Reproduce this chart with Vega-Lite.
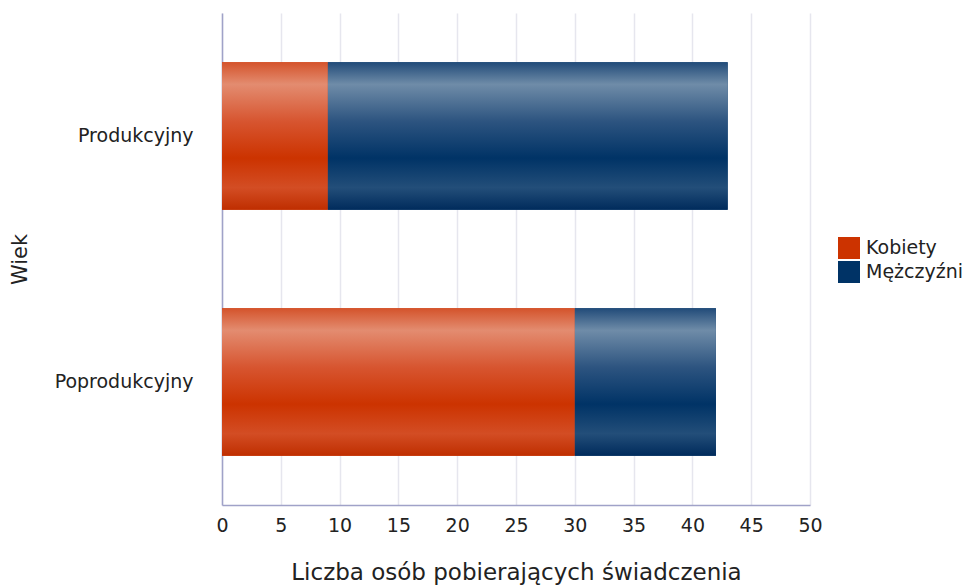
{
  "$schema": "https://vega.github.io/schema/vega-lite/v6.json",
  "width": 588,
  "height": 492,
  "autosize": "none",
  "padding": {"left": 222, "top": 13, "right": 165, "bottom": 80},
  "background": "white",
  "config": {
    "font": "DejaVu Sans",
    "view": {"stroke": null}
  },
  "data": {
    "values": [
      {"wiek": "Produkcyjny", "plec": "Kobiety", "liczba": 9, "ord": 1},
      {"wiek": "Produkcyjny", "plec": "Mężczyźni", "liczba": 34, "ord": 2},
      {"wiek": "Poprodukcyjny", "plec": "Kobiety", "liczba": 30, "ord": 1},
      {"wiek": "Poprodukcyjny", "plec": "Mężczyźni", "liczba": 12, "ord": 2}
    ]
  },
  "transform": [
    {"stack": "liczba", "groupby": ["wiek"], "sort": [{"field": "ord", "order": "ascending"}], "as": ["x0", "x1"]}
  ],
  "encoding": {
    "y": {
      "field": "wiek",
      "type": "nominal",
      "sort": ["Produkcyjny", "Poprodukcyjny"],
      "scale": {"paddingInner": 0.4, "paddingOuter": 0.2},
      "axis": {
        "title": "Wiek",
        "titleFontSize": 21,
        "titleFontWeight": "normal",
        "titleColor": "#222222",
        "titleX": -192,
        "labelFontSize": 19,
        "labelColor": "#222222",
        "labelPadding": 29,
        "ticks": false,
        "domainColor": "#a0a2c8",
        "domainWidth": 1.5
      }
    },
    "x": {
      "field": "x0",
      "type": "quantitative",
      "scale": {"domain": [0, 50], "nice": false},
      "axis": {
        "values": [0, 5, 10, 15, 20, 25, 30, 35, 40, 45, 50],
        "title": "Liczba osób pobierających świadczenia",
        "titleFontSize": 23,
        "titleFontWeight": "normal",
        "titleColor": "#222222",
        "titlePadding": 26,
        "labelFontSize": 19,
        "labelColor": "#222222",
        "labelPadding": 11,
        "labelFlush": false,
        "ticks": false,
        "grid": true,
        "gridColor": "#e6e6ee",
        "gridWidth": 1.5,
        "domainColor": "#a0a2c8",
        "domainWidth": 1.5
      }
    },
    "x2": {"field": "x1"}
  },
  "layer": [
    {
      "mark": {"type": "bar"},
      "encoding": {
        "fill": {
          "field": "plec",
          "type": "nominal",
          "scale": {"domain": ["Kobiety", "Mężczyźni"], "range": ["#cc3300", "#003366"]},
          "legend": {
            "title": null,
            "orient": "none",
            "legendX": 616,
            "legendY": 224,
            "symbolType": "square",
            "symbolSize": 484,
            "symbolStrokeWidth": 0,
            "labelFontSize": 19,
            "labelColor": "#222222",
            "labelOffset": 6,
            "rowPadding": 2,
            "encode": {
              "symbols": {
                "enter": {
                  "fill": {"signal": "datum.label == 'Kobiety' ? {gradient: 'linear', x1: 0, y1: 0, x2: 0, y2: 1, stops: [{offset: 0, color: '#d4532b'}, {offset: 0.15, color: '#e38c70'}, {offset: 0.4, color: '#d75530'}, {offset: 0.65, color: '#cc3300'}, {offset: 0.85, color: '#d34d24'}, {offset: 1, color: '#bf2e00'}]} : {gradient: 'linear', x1: 0, y1: 0, x2: 0, y2: 1, stops: [{offset: 0, color: '#214b79'}, {offset: 0.15, color: '#6f8ca8'}, {offset: 0.4, color: '#2d5480'}, {offset: 0.65, color: '#003366'}, {offset: 0.85, color: '#234e79'}, {offset: 1, color: '#002b5c'}]}"}
                },
                "update": {
                  "fill": {"signal": "datum.label == 'Kobiety' ? {gradient: 'linear', x1: 0, y1: 0, x2: 0, y2: 1, stops: [{offset: 0, color: '#d4532b'}, {offset: 0.15, color: '#e38c70'}, {offset: 0.4, color: '#d75530'}, {offset: 0.65, color: '#cc3300'}, {offset: 0.85, color: '#d34d24'}, {offset: 1, color: '#bf2e00'}]} : {gradient: 'linear', x1: 0, y1: 0, x2: 0, y2: 1, stops: [{offset: 0, color: '#214b79'}, {offset: 0.15, color: '#6f8ca8'}, {offset: 0.4, color: '#2d5480'}, {offset: 0.65, color: '#003366'}, {offset: 0.85, color: '#234e79'}, {offset: 1, color: '#002b5c'}]}"}
                }
              }
            }
          }
        }
      }
    },
    {
      "transform": [{"filter": "datum.plec == 'Kobiety'"}],
      "mark": {
        "type": "bar",
        "color": {"gradient": "linear", "x1": 0, "y1": 0, "x2": 0, "y2": 1, "stops": [
          {"offset": 0, "color": "#d4532b"},
          {"offset": 0.15, "color": "#e38c70"},
          {"offset": 0.4, "color": "#d75530"},
          {"offset": 0.65, "color": "#cc3300"},
          {"offset": 0.85, "color": "#d34d24"},
          {"offset": 1, "color": "#bf2e00"}
        ]}
      }
    },
    {
      "transform": [{"filter": "datum.plec == 'Mężczyźni'"}],
      "mark": {
        "type": "bar",
        "color": {"gradient": "linear", "x1": 0, "y1": 0, "x2": 0, "y2": 1, "stops": [
          {"offset": 0, "color": "#214b79"},
          {"offset": 0.15, "color": "#6f8ca8"},
          {"offset": 0.4, "color": "#2d5480"},
          {"offset": 0.65, "color": "#003366"},
          {"offset": 0.85, "color": "#234e79"},
          {"offset": 1, "color": "#002b5c"}
        ]}
      }
    }
  ]
}
